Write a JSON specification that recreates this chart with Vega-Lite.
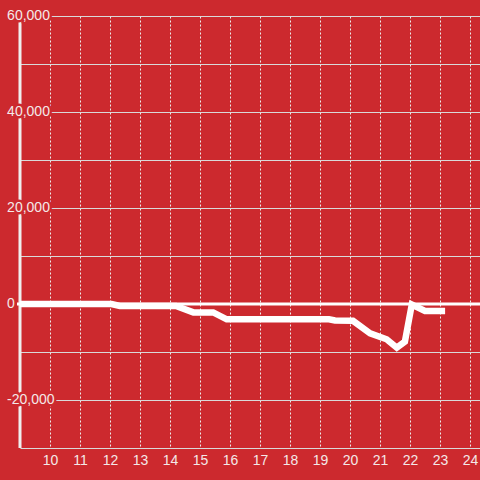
{
  "$schema": "https://vega.github.io/schema/vega-lite/v6.json",
  "width": 460,
  "height": 432,
  "autosize": {"type": "none"},
  "padding": {"left": 20, "top": 16, "right": 0, "bottom": 32},
  "background": "#cc292e",
  "config": {"view": {"stroke": null}, "font": "Liberation Sans"},
  "datasets": {
    "series": [
      {"hour": 9, "value": 0},
      {"hour": 12.05, "value": 0},
      {"hour": 12.33, "value": -400},
      {"hour": 14.2, "value": -400},
      {"hour": 14.78, "value": -1750},
      {"hour": 15.44, "value": -1750},
      {"hour": 15.89, "value": -3200},
      {"hour": 19.3, "value": -3200},
      {"hour": 19.5, "value": -3450},
      {"hour": 20.1, "value": -3500},
      {"hour": 20.67, "value": -6100},
      {"hour": 21.22, "value": -7350},
      {"hour": 21.56, "value": -9100},
      {"hour": 21.83, "value": -7850},
      {"hour": 22.06, "value": -100},
      {"hour": 22.5, "value": -1450},
      {"hour": 23.17, "value": -1450}
    ],
    "ylabels": [
      {"v": 60000, "label": "60,000"},
      {"v": 40000, "label": "40,000"},
      {"v": 20000, "label": "20,000"},
      {"v": 0, "label": "0"},
      {"v": -20000, "label": "-20,000"}
    ],
    "one": [{"k": 1}]
  },
  "layer": [
    {
      "data": {"name": "series"},
      "mark": {"type": "line", "strokeWidth": 0, "opacity": 0},
      "encoding": {
        "x": {
          "field": "hour", "type": "quantitative", "title": null,
          "scale": {"domain": [9, 24.333], "nice": false, "zero": false},
          "axis": {
            "values": [10, 11, 12, 13, 14, 15, 16, 17, 18, 19, 20, 21, 22, 23, 24],
            "grid": true, "gridDash": [2, 2], "gridColor": "#ececec", "gridWidth": 1,
            "domain": false, "ticks": false, "labelOverlap": false,
            "labelFontSize": 14, "labelColor": "#f4e8e8", "labelPadding": 5,
            "labelFont": "Liberation Sans"
          }
        },
        "y": {
          "field": "value", "type": "quantitative", "title": null,
          "scale": {"domain": [-30000, 60000], "nice": false, "zero": false},
          "axis": {
            "values": [-30000, -20000, -10000, 0, 10000, 20000, 30000, 40000, 50000, 60000],
            "grid": true, "gridColor": "#d9d9d9", "gridWidth": 1,
            "domain": false, "ticks": false, "labels": false
          }
        }
      }
    },
    {
      "data": {"name": "one"},
      "mark": {"type": "rule", "color": "#efefef", "strokeWidth": 3},
      "encoding": {
        "x": {"datum": 9, "type": "quantitative", "title": null,
          "axis": {
            "values": [10, 11, 12, 13, 14, 15, 16, 17, 18, 19, 20, 21, 22, 23, 24],
            "grid": true, "gridDash": [2, 2], "gridColor": "#ececec", "gridWidth": 1,
            "domain": false, "ticks": false, "labelOverlap": false,
            "labelFontSize": 14, "labelColor": "#f4e8e8", "labelPadding": 5,
            "labelFont": "Liberation Sans"
          }},
        "y": {"datum": -30000, "type": "quantitative", "title": null,
          "axis": {
            "values": [-30000, -20000, -10000, 0, 10000, 20000, 30000, 40000, 50000, 60000],
            "grid": true, "gridColor": "#d9d9d9", "gridWidth": 1,
            "domain": false, "ticks": false, "labels": false
          }},
        "y2": {"datum": 60000}
      }
    },
    {
      "data": {"name": "ylabels"},
      "mark": {"type": "text", "align": "left", "baseline": "middle", "fontSize": 14, "font": "Liberation Sans",
               "fill": "#cc292e", "stroke": "#cc292e", "strokeWidth": 5, "strokeJoin": "round"},
      "encoding": {
        "x": {"datum": 8.57, "type": "quantitative", "title": null,
          "axis": {
            "values": [10, 11, 12, 13, 14, 15, 16, 17, 18, 19, 20, 21, 22, 23, 24],
            "grid": true, "gridDash": [2, 2], "gridColor": "#ececec", "gridWidth": 1,
            "domain": false, "ticks": false, "labelOverlap": false,
            "labelFontSize": 14, "labelColor": "#f4e8e8", "labelPadding": 5,
            "labelFont": "Liberation Sans"
          }},
        "y": {"field": "v", "type": "quantitative", "title": null,
          "axis": {
            "values": [-30000, -20000, -10000, 0, 10000, 20000, 30000, 40000, 50000, 60000],
            "grid": true, "gridColor": "#d9d9d9", "gridWidth": 1,
            "domain": false, "ticks": false, "labels": false
          }},
        "text": {"field": "label"}
      }
    },
    {
      "data": {"name": "one"},
      "mark": {"type": "rule", "color": "#ffffff", "strokeWidth": 3},
      "encoding": {
        "x": {"datum": 8.9, "type": "quantitative", "title": null,
          "axis": {
            "values": [10, 11, 12, 13, 14, 15, 16, 17, 18, 19, 20, 21, 22, 23, 24],
            "grid": true, "gridDash": [2, 2], "gridColor": "#ececec", "gridWidth": 1,
            "domain": false, "ticks": false, "labelOverlap": false,
            "labelFontSize": 14, "labelColor": "#f4e8e8", "labelPadding": 5,
            "labelFont": "Liberation Sans"
          }},
        "x2": {"datum": 24.333},
        "y": {"datum": 0, "type": "quantitative", "title": null,
          "axis": {
            "values": [-30000, -20000, -10000, 0, 10000, 20000, 30000, 40000, 50000, 60000],
            "grid": true, "gridColor": "#d9d9d9", "gridWidth": 1,
            "domain": false, "ticks": false, "labels": false
          }}
      }
    },
    {
      "data": {"name": "series"},
      "mark": {"type": "line", "color": "#ffffff", "strokeWidth": 6.5},
      "encoding": {
        "x": {"field": "hour", "type": "quantitative", "title": null,
          "axis": {
            "values": [10, 11, 12, 13, 14, 15, 16, 17, 18, 19, 20, 21, 22, 23, 24],
            "grid": true, "gridDash": [2, 2], "gridColor": "#ececec", "gridWidth": 1,
            "domain": false, "ticks": false, "labelOverlap": false,
            "labelFontSize": 14, "labelColor": "#f4e8e8", "labelPadding": 5,
            "labelFont": "Liberation Sans"
          }},
        "y": {"field": "value", "type": "quantitative", "title": null,
          "axis": {
            "values": [-30000, -20000, -10000, 0, 10000, 20000, 30000, 40000, 50000, 60000],
            "grid": true, "gridColor": "#d9d9d9", "gridWidth": 1,
            "domain": false, "ticks": false, "labels": false
          }}
      }
    },
    {
      "data": {"name": "ylabels"},
      "mark": {"type": "text", "align": "left", "baseline": "middle", "fontSize": 14, "font": "Liberation Sans",
               "fill": "#f4e8e8"},
      "encoding": {
        "x": {"datum": 8.57, "type": "quantitative", "title": null,
          "axis": {
            "values": [10, 11, 12, 13, 14, 15, 16, 17, 18, 19, 20, 21, 22, 23, 24],
            "grid": true, "gridDash": [2, 2], "gridColor": "#ececec", "gridWidth": 1,
            "domain": false, "ticks": false, "labelOverlap": false,
            "labelFontSize": 14, "labelColor": "#f4e8e8", "labelPadding": 5,
            "labelFont": "Liberation Sans"
          }},
        "y": {"field": "v", "type": "quantitative", "title": null,
          "axis": {
            "values": [-30000, -20000, -10000, 0, 10000, 20000, 30000, 40000, 50000, 60000],
            "grid": true, "gridColor": "#d9d9d9", "gridWidth": 1,
            "domain": false, "ticks": false, "labels": false
          }},
        "text": {"field": "label"}
      }
    }
  ]
}
